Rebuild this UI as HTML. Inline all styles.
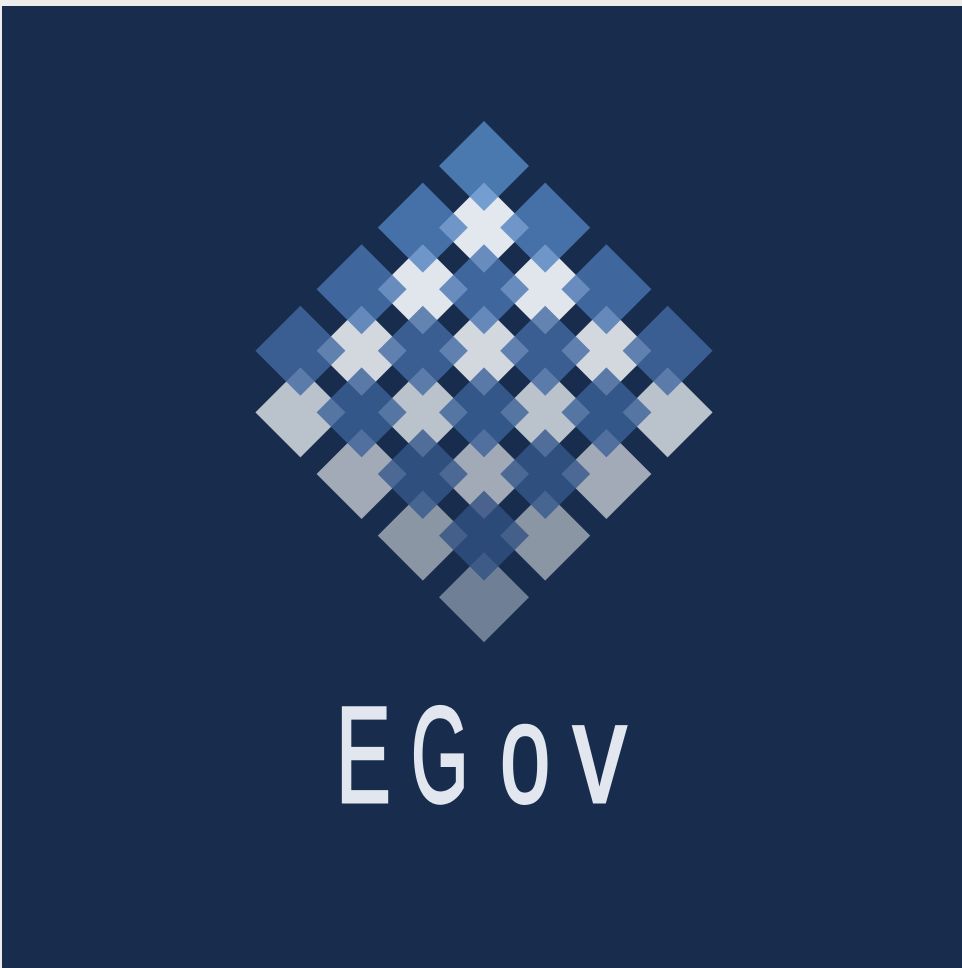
<!DOCTYPE html>
<html><head><meta charset="utf-8"><style>
html,body{margin:0;padding:0;background:#ececec;}
svg{display:block;}
</style></head><body>
<svg width="962" height="968" viewBox="0 0 962 968" xmlns="http://www.w3.org/2000/svg">
<rect x="2" y="6" width="960" height="962" fill="#182d4d"/>
<g id="light"></g>
<g id="blue"></g>
<g font-family="'Liberation Sans',sans-serif" font-size="137" fill="#e1e6ef" stroke="#e1e6ef" stroke-width="3" stroke-linejoin="miter">
<text transform="translate(336,802) scale(0.6,1)">E</text>
<text transform="translate(411,802) scale(0.54,1)">G</text>
<text transform="translate(500,802) scale(0.66,1.04)">o</text>
<text transform="translate(573,802) scale(0.78,1.04)">v</text>
</g>
</svg>
<script>
// row colours by diagonal index k = i + j
const blueRowColors = ["#4b79b0","#4671a8","#40679d","#3a5e92","#35578a","#30507f","#2d4a78"];
const lightRowColors = ["#e3e7ee","#e1e5ec","#d3d8df","#bac2cb","#a3aab7","#8a96a4","#6f7f95"];
const gridSize = 4;
const cx0 = 484, cy0 = 166, stepX = 61.2, stepY = 61.6, half = 45;
const bg = [0x18,0x2d,0x4d], alpha = 0.8;
function hex(c){return [1,3,5].map(i=>parseInt(c.substr(i,2),16));}
function blueFill(c){const t=hex(c);return 'rgb('+t.map((v,i)=>Math.max(0,Math.min(255,Math.round((v-(1-alpha)*bg[i])/alpha)))).join(',')+')';}
function diamond(g,x,y,fill,op,name){
  const p=document.createElementNS('http://www.w3.org/2000/svg','polygon');
  p.setAttribute('points',`${x},${y-half} ${x+half},${y} ${x},${y+half} ${x-half},${y}`);
  p.setAttribute('fill',fill);
  if(op<1)p.setAttribute('fill-opacity',op);
  
  
  g.appendChild(p);
}
const L=document.getElementById('light'),B=document.getElementById('blue');
for(let i=0;i<gridSize;i++)for(let j=0;j<gridSize;j++){
  const k=i+j, x=cx0+(i-j)*stepX;
  diamond(L,x,cy0+(k+1)*stepY,lightRowColors[k],1,'light-diamond');
  diamond(B,x,cy0+k*stepY,blueFill(blueRowColors[k]),alpha,'blue-diamond');
}
</script>
</body></html>
